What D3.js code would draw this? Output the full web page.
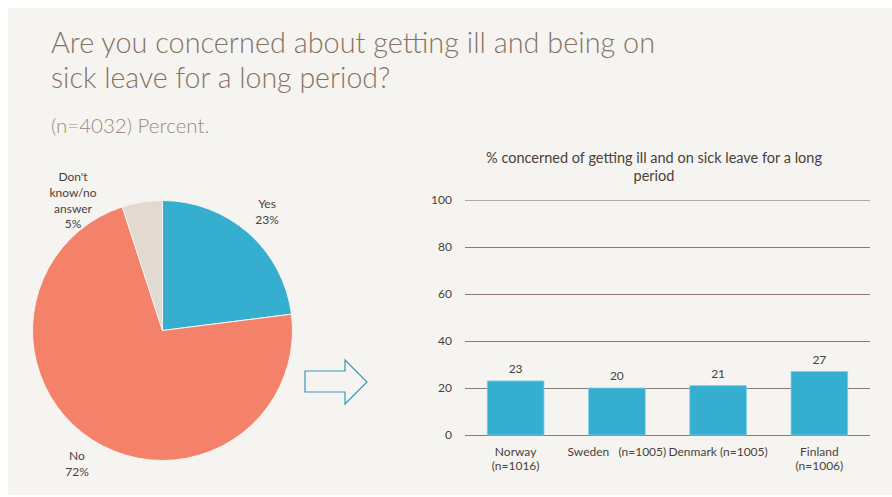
<!DOCTYPE html>
<html><head><meta charset="utf-8">
<script src="https://cdn.jsdelivr.net/npm/d3@7"></script>
<style>
html,body{margin:0;padding:0;background:#fff;}
svg{display:block;}
text{font-family:Lato,"Open Sans",sans-serif;}
</style></head>
<body>
<svg id="c" width="892" height="497"></svg>
<script>
const pieLabels = ["Yes", "No", "Don't know/no answer"];
const pieValues = [23, 72, 5];
const pieColors = ["#35aed0", "#f4826a", "#e2d9d0"];

const countries = ["Norway", "Sweden", "Denmark", "Finland"];
const countryLabels = [["Norway", "(n=1016)"], ["Sweden   (n=1005)"], ["Denmark (n=1005)"], ["Finland", "(n=1006)"]];
const barValues = [23, 20, 21, 27];
const yTicks = [0, 20, 40, 60, 80, 100];

const svg = d3.select("#c");
svg.append("rect").attr("x", 8).attr("y", 8).attr("width", 884).attr("height", 487).attr("fill", "#f6f4f0");

// Title
const tcol = "#857366";
svg.append("text").attr("x", 51).attr("y", 53).attr("font-size", 28.5).attr("font-weight", 300).attr("fill", tcol)
  .attr("textLength", 604).attr("lengthAdjust", "spacingAndGlyphs")
  .text("Are you concerned about getting ill and being on");
svg.append("text").attr("x", 51).attr("y", 88).attr("font-size", 28.5).attr("font-weight", 300).attr("fill", tcol)
  .text("sick leave for a long period?");
svg.append("text").attr("x", 51).attr("y", 133).attr("font-size", 20.5).attr("font-weight", 300).attr("fill", "#9a8a80")
  .text("(n=4032) Percent.");

// Pie
const cx = 162.5, cy = 330.5, r = 130;
const pie = d3.pie().sort(null).value(d => d)(pieValues);
const arc = d3.arc().innerRadius(0).outerRadius(r);
const pg = svg.append("g").attr("transform", `translate(${cx},${cy})`);
pg.selectAll("path").data(pie).join("path")
  .attr("d", arc).attr("fill", (d, i) => pieColors[i])
  .attr("stroke", "#f6f4f0").attr("stroke-width", 1);

const labCol = "#4a3f3a";
const pieLabelPos = [
  {x: 267, y: 208, lines: ["Yes", pieValues[0] + "%"]},
  {x: 77, y: 460, lines: ["No", pieValues[1] + "%"]},
  {x: 73, y: 181, lines: ["Don't", "know/no", "answer", pieValues[2] + "%"]}
];
pieLabelPos.forEach(p => {
  const t = svg.append("text").attr("text-anchor", "middle").attr("font-size", 12).attr("fill", labCol);
  p.lines.forEach((l, j) => t.append("tspan").attr("x", p.x).attr("y", p.y + j * 15.8).text(l));
});

// Arrow
svg.append("path")
  .attr("d", "M305,371 L345,371 L345,360 L367,382 L345,404 L345,392 L305,392 Z")
  .attr("fill", "none").attr("stroke", "#3b96bb").attr("stroke-width", 1.2);

// Bar chart
const x = d3.scaleBand().domain(countries).range([465, 870]).paddingInner(0.44).paddingOuter(0.22);
const y = d3.scaleLinear().domain([0, 100]).range([435, 200]);

svg.append("text").attr("text-anchor", "middle").attr("font-size", 14.5).attr("fill", labCol)
  .selectAll("tspan").data(["% concerned of getting ill and on sick leave for a long", "period"]).join("tspan")
  .attr("x", 654).attr("y", (d, i) => 163 + i * 18).text(d => d);

const yAxis = d3.axisLeft(y).tickValues(yTicks).tickSize(0).tickPadding(13);
const ga = svg.append("g").attr("transform", "translate(465,0)").call(yAxis);
ga.select(".domain").remove();
ga.selectAll("text").attr("font-size", 12).attr("fill", labCol).attr("font-family", "Lato,sans-serif");

svg.append("g").selectAll("line").data(yTicks).join("line")
  .attr("x1", 465).attr("x2", 870).attr("y1", d => Math.round(y(d)) + 0.5).attr("y2", d => Math.round(y(d)) + 0.5)
  .attr("stroke", d => d === 100 ? "#b3a79e" : "#8c7a6e").attr("stroke-width", 1);

svg.append("g").selectAll("rect").data(barValues).join("rect")
  .attr("x", (d, i) => x(countries[i])).attr("width", x.bandwidth())
  .attr("y", d => y(d)).attr("height", d => y(0) - y(d))
  .attr("fill", "#35aed0").attr("stroke", "#7fd0e6").attr("stroke-width", 0.8);

svg.append("g").selectAll("text").data(barValues).join("text")
  .attr("x", (d, i) => x(countries[i]) + x.bandwidth() / 2).attr("y", d => y(d) - 8)
  .attr("text-anchor", "middle").attr("font-size", 12).attr("fill", labCol).text(d => d);

countryLabels.forEach((ls, i) => {
  const t = svg.append("text").attr("text-anchor", "middle").attr("font-size", 12).attr("fill", labCol);
  ls.forEach((l, j) => t.append("tspan").attr("x", x(countries[i]) + x.bandwidth() / 2).attr("y", 456 + j * 14).attr("xml:space", "preserve").text(l));
});
</script>
</body></html>
